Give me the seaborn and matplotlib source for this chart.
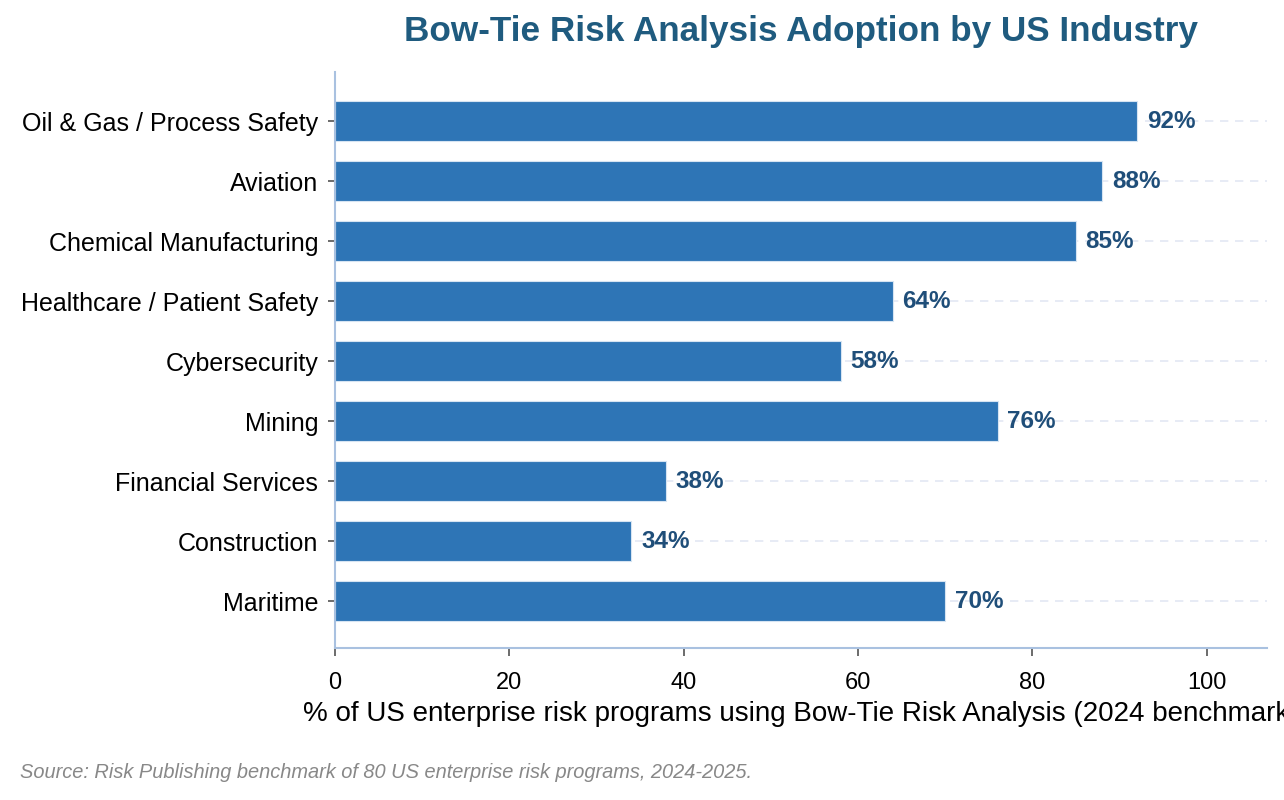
import numpy as np
import pandas as pd
import matplotlib
matplotlib.use('Agg')
import matplotlib.pyplot as plt
import seaborn as sns

industries = ['Oil & Gas / Process Safety', 'Aviation', 'Chemical Manufacturing',
              'Healthcare / Patient Safety', 'Cybersecurity', 'Mining',
              'Financial Services', 'Construction', 'Maritime']
adoption = [92, 88, 85, 64, 58, 76, 38, 34, 70]

df = pd.DataFrame({'industry': industries, 'adoption': adoption})

sns.set_style('white')
plt.rcParams['font.family'] = ['Liberation Sans', 'DejaVu Sans']

fig = plt.figure(figsize=(12.84, 8), dpi=100)
ax = fig.add_axes([335/1284, 152/800, 932/1284, 576/800])

sns.barplot(data=df, x='adoption', y='industry', color='#2e75b6', saturation=1,
            width=0.66, edgecolor='#d6e4f2', linewidth=0.8, ax=ax)

# dashed guide lines behind the bars
for i in range(len(industries)):
    ax.axhline(i, color='#e3e8f3', linestyle=(0, (5, 4)), linewidth=1.2, zorder=0)

for i, v in enumerate(adoption):
    ax.text(v + 1.1, i, f'{v}%', va='center', ha='left', fontsize=17.5,
            fontweight='bold', color='#1f4e79')

ax.set_xlim(0, 106.9)
ax.set_ylim(len(industries) - 0.22, -0.82)
ax.set_xticks([0, 20, 40, 60, 80, 100])
ax.tick_params(axis='y', labelsize=18, length=5, width=1.1, color='#444444', left=True,
               labelcolor='black', pad=7)
ax.tick_params(axis='x', labelsize=17, length=6, width=1.1, color='#444444', bottom=True,
               labelcolor='black', pad=11)
ax.set_ylabel('')
ax.set_xlabel('% of US enterprise risk programs using Bow-Tie Risk Analysis (2024 benchmark)',
              fontsize=20, labelpad=5, color='black')

sns.despine(ax=ax)
for s in ['left', 'bottom']:
    ax.spines[s].set_color('#a9c1e0')
    ax.spines[s].set_linewidth(1.5)

fig.text(801/1284, 1 - 32/800, 'Bow-Tie Risk Analysis Adoption by US Industry',
         ha='center', va='center', fontsize=25.3, fontweight='bold', color='#1f5b7f')
fig.text(20/1284, 1 - 772/800, 'Source: Risk Publishing benchmark of 80 US enterprise risk programs, 2024-2025.',
         ha='left', va='center', fontsize=14.4, style='italic', color='#888888')

fig.savefig('out.png', dpi=100)
